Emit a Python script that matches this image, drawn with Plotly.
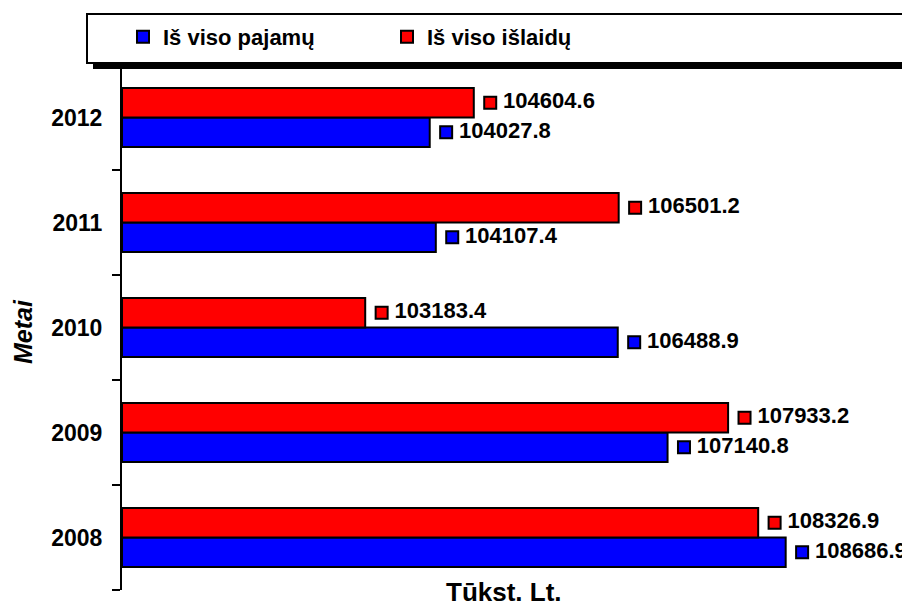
import plotly.graph_objects as go

years = ["2008", "2009", "2010", "2011", "2012"]
pajamu = [108686.9, 107140.8, 106488.9, 104107.4, 104027.8]
islaidu = [108326.9, 107933.2, 103183.4, 106501.2, 104604.6]
series_names = ["Iš viso pajamų", "Iš viso išlaidų"]
colors = ["#0000FF", "#FF0000"]

x_min, x_max = 100000, 110000
FONT = "Arial, Liberation Sans, sans-serif"

fig = go.Figure()
for name, vals, col in zip(series_names, [pajamu, islaidu], colors):
    fig.add_trace(go.Bar(
        y=years, x=[v - x_min for v in vals], base=x_min, orientation="h", name=name,
        marker=dict(color=col, line=dict(color="black", width=2)),
        yaxis="y", hoverinfo="skip"))

# value labels with small coloured square keys
label_offset = 0.0215 * (x_max - x_min)
half = 0.14
for k, (vals, col) in enumerate(zip([pajamu, islaidu], colors)):
    sign = -1 if k == 0 else 1
    fig.add_trace(go.Scatter(
        x=[v + label_offset for v in vals],
        y=[i + sign * half for i in range(len(years))],
        mode="markers+text",
        marker=dict(symbol="square", size=12, color=col, line=dict(color="black", width=2)),
        text=["\u2009" + f"{v:.1f}" for v in vals],
        textposition="middle right",
        textfont=dict(family=FONT, size=22, color="black", weight="bold"),
        yaxis="y2", showlegend=False, hoverinfo="skip", cliponaxis=False))

# figure coordinates (the page adds an 8px body margin)
W, H = 902, 597
L, R, T, B = 114, 24, 57, 15
pw, ph = W - L - R, H - T - B

def px(x):
    return (x - L) / pw

def py(y):
    return (H - B - y) / ph

shapes = [
    dict(type="rect", xref="paper", yref="paper", x0=px(85), x1=px(915), y0=py(61), y1=py(12),
         fillcolor="black", line=dict(width=0), layer="above"),
    dict(type="rect", xref="paper", yref="paper", x0=px(79), x1=px(910), y0=py(55), y1=py(6),
         fillcolor="white", line=dict(color="black", width=2), layer="above"),
]

fig.update_layout(
    width=W, height=H,
    margin=dict(l=L, r=R, t=T, b=B, autoexpand=False),
    paper_bgcolor="white", plot_bgcolor="white",
    barmode="group", bargap=0.44, bargroupgap=0,
    font=dict(family=FONT, color="black"),
    showlegend=True,
    legend=dict(orientation="h", x=px(115), xanchor="left", y=py(29), yanchor="middle",
                bgcolor="rgba(0,0,0,0)", borderwidth=0,
                font=dict(family=FONT, size=22, color="black", weight="bold"),
                entrywidth=219, entrywidthmode="pixels", traceorder="normal"),
    xaxis=dict(range=[x_min, x_max], showticklabels=False, showgrid=False, zeroline=False,
               showline=False, ticks=""),
    yaxis=dict(type="category", categoryorder="array", categoryarray=years,
               range=[-0.5, len(years) - 0.5],
               showline=True, linecolor="black", linewidth=2,
               ticks="outside", tickson="boundaries", ticklen=8, tickwidth=2, tickcolor="black",
               tickfont=dict(family=FONT, size=23, color="black", weight="bold"),
               ticklabelstandoff=13, showgrid=False, zeroline=False),
    yaxis2=dict(overlaying="y", range=[-0.5, len(years) - 0.5], visible=False),
    shapes=shapes,
    annotations=[
        dict(text="Tūkst. Lt.", xref="paper", yref="paper", x=px(495.5), y=0, yanchor="top",
             xanchor="center", yshift=15, showarrow=False,
             font=dict(family=FONT, size=26, color="black", weight="bold")),
        dict(text="<i>Metai</i>", xref="paper", yref="paper", x=px(15), y=py(323),
             textangle=-90, showarrow=False, xanchor="center", yanchor="middle",
             font=dict(family=FONT, size=25, color="black", weight="bold")),
    ],
)

fig.write_html("out.html")
